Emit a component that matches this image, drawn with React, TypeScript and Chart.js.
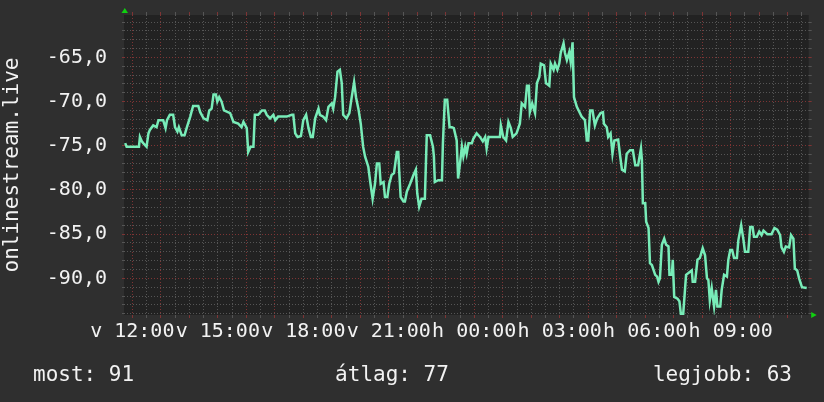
import { useEffect, useRef } from 'react';
import { Chart, registerables } from 'chart.js';
Chart.register(...registerables);

// minutes after 12:00 on the first day
const minutes = [
  -15, -12, 14, 16, 20, 23, 30, 34, 37, 44, 51, 55, 65, 70, 73, 79, 86, 90, 95, 98,
  104, 110, 115, 122, 128, 139, 143, 150, 158, 162, 167, 171, 176, 179, 183, 188, 193, 206, 213, 223,
  230, 234, 241, 244, 249, 255, 258, 265, 273, 279, 283, 290, 297, 301, 307, 325, 336, 339, 343, 348,
  355, 360, 366, 371, 376, 380, 385, 392, 395, 402, 408, 413, 420, 423, 427, 432, 437, 441, 444, 451,
  457, 462, 467, 471, 476, 481, 486, 490, 497, 501, 506, 511, 515, 520, 523, 529, 532, 537, 541, 546,
  551, 557, 560, 562, 565, 571, 574, 578, 585, 592, 597, 600, 604, 609, 616, 620, 627, 633, 635, 637,
  644, 652, 654, 658, 663, 668, 673, 677, 683, 686, 690, 694, 697, 701, 704, 708, 715, 718, 725, 732,
  738, 743, 746, 750, 774, 776, 781, 787, 792, 797, 801, 809, 816, 820, 827, 831, 835, 837, 842, 848,
  852, 857, 860, 867, 871, 878, 881, 887, 890, 895, 899, 902, 908, 911, 915, 920, 923, 927, 930, 936,
  946, 953, 957, 960, 964, 969, 974, 979, 986, 991, 993, 999, 1002, 1007, 1011, 1015, 1023, 1027, 1031, 1037,
  1041, 1048, 1054, 1056, 1059, 1065, 1071, 1073, 1075, 1080, 1082, 1087, 1090, 1094, 1101, 1105, 1108, 1111, 1115, 1120,
  1124, 1129, 1131, 1136, 1138, 1141, 1148, 1152, 1155, 1160, 1166, 1171, 1178, 1180, 1185, 1190, 1195, 1201, 1206, 1210,
  1213, 1216, 1220, 1225, 1229, 1232, 1238, 1241, 1246, 1252, 1255, 1259, 1263, 1267, 1273, 1276, 1282, 1287, 1290, 1297,
  1301, 1306, 1309, 1315, 1320, 1325, 1329, 1337, 1346, 1352, 1358, 1364, 1367, 1372, 1376, 1383, 1387, 1392, 1395, 1400,
  1404, 1410, 1420,
];

const values = [
  -74.7, -75.1, -75.1, -74.0, -74.5, -74.7, -75.1, -73.6, -73.2, -72.7, -72.9, -72.1, -72.1, -73.0, -72.1, -71.5, -71.5, -72.9, -73.4, -72.9,
  -73.8, -73.8, -72.9, -71.7, -70.5, -70.5, -71.2, -71.9, -72.1, -71.0, -70.8, -69.2, -69.2, -70.0, -69.5, -70.0, -71.0, -71.3, -72.3, -72.5,
  -72.9, -72.3, -73.0, -75.7, -75.1, -75.1, -71.5, -71.5, -71.0, -71.0, -71.5, -71.9, -71.5, -72.1, -71.7, -71.7, -71.5, -71.5, -73.6, -74.0,
  -73.9, -72.1, -71.5, -73.0, -74.0, -74.0, -71.9, -70.8, -71.5, -71.7, -72.1, -70.6, -70.2, -70.8, -69.5, -66.6, -66.4, -67.9, -71.5, -71.9,
  -71.3, -69.5, -67.8, -69.5, -70.8, -72.5, -75.1, -76.2, -77.4, -79.1, -81.0, -79.3, -77.0, -77.0, -79.3, -79.1, -80.8, -80.8, -79.3, -78.3,
  -78.1, -75.7, -75.7, -77.9, -80.8, -81.3, -81.3, -80.2, -79.3, -78.3, -77.7, -80.4, -81.9, -81.0, -81.0, -73.8, -73.8, -75.1, -76.2, -79.1,
  -78.9, -78.9, -74.7, -69.8, -69.8, -72.9, -72.9, -73.0, -74.4, -78.7, -77.0, -75.1, -76.2, -75.1, -75.9, -74.7, -74.7, -74.2, -73.6, -74.0,
  -74.5, -74.0, -75.3, -74.0, -74.0, -72.7, -74.0, -74.4, -72.3, -73.0, -74.0, -73.6, -72.5, -70.2, -70.6, -68.2, -68.2, -71.2, -70.2, -71.3,
  -67.9, -67.2, -65.7, -65.9, -67.9, -68.2, -65.7, -66.4, -65.7, -66.4, -65.7, -64.5, -63.4, -64.5, -65.3, -64.4, -65.5, -63.3, -69.5, -70.6,
  -71.7, -72.1, -74.4, -74.4, -71.0, -71.0, -72.7, -71.9, -71.3, -71.2, -72.5, -72.9, -74.0, -73.6, -75.9, -74.4, -74.3, -76.1, -77.7, -77.9,
  -75.9, -75.5, -75.5, -76.2, -77.2, -77.2, -75.3, -76.6, -81.5, -81.5, -83.6, -84.3, -88.3, -88.5, -89.6, -89.8, -90.4, -90.0, -86.2, -85.5,
  -86.2, -86.4, -89.6, -89.6, -87.9, -92.1, -92.3, -92.6, -94.0, -94.0, -89.6, -89.4, -89.1, -90.4, -90.4, -87.9, -87.7, -86.6, -87.4, -90.0,
  -90.2, -92.5, -91.1, -93.2, -91.3, -93.2, -93.2, -91.3, -89.6, -89.8, -87.9, -86.8, -86.8, -87.7, -87.7, -85.7, -84.0, -85.7, -87.0, -87.0,
  -84.2, -84.2, -85.3, -85.3, -84.7, -85.1, -84.6, -85.0, -85.0, -84.3, -84.5, -85.1, -86.5, -87.0, -86.4, -86.5, -85.1, -85.5, -88.9, -89.1,
  -90.0, -91.0, -91.1,
];

const xLabelTimes = [0, 180, 360, 540, 720, 900, 1080, 1260];
const xLabels = ['v 12:00', 'v 15:00', 'v 18:00', 'v 21:00', 'h 00:00', 'h 03:00', 'h 06:00', 'h 09:00'];
const yMajorTicks = [-90, -85, -80, -75, -70, -65];
const yTitle = 'onlinestream.live';
const summaryNames = ['most', 'átlag', 'legjobb'];
const summaryValues = [91, 77, 63];

const X_MIN = -17.5;
const X_MAX = 1424.2;
const Y_MIN = -94.15;
const Y_MAX = -60.2;

const FONT = "'DejaVu Sans Mono', monospace";
const MINOR = '#555555';
const MAJOR = '#7e3434';
const TEXT = '#f2f2f2';

function xTicks(scale: any) {
  const t: any[] = [];
  for (let m = 0; m <= X_MAX; m += 30) t.push({ value: m });
  scale.ticks = t;
}
function yTicks(scale: any) {
  const t: any[] = [];
  for (let v = -94; v <= -61; v += 1) t.push({ value: v });
  scale.ticks = t;
}
const xGridColor = (ctx: any) => {
  const m = ctx.tick ? ctx.tick.value : 0;
  const r = ((m % 240) + 240) % 240;
  return r === 0 || r === 60 ? MAJOR : MINOR;
};
const xTickColor = (ctx: any) => {
  const m = ctx.tick ? ctx.tick.value : 0;
  return m % 60 === 0 ? MAJOR : MINOR;
};
const yGridColor = (ctx: any) => {
  const v = ctx.tick ? ctx.tick.value : 0;
  return v % 5 === 0 ? MAJOR : MINOR;
};
const fixSize = (w: number | null, h: number | null) => (s: any) => {
  if (w !== null) s.width = w;
  if (h !== null) s.height = h;
  s.paddingTop = 0;
  s.paddingBottom = 0;
  s.paddingLeft = 0;
  s.paddingRight = 0;
};

const decorPlugin = {
  id: 'decor',
  beforeDraw(chart: any) {
    const { ctx, chartArea } = chart;
    ctx.save();
    ctx.fillStyle = '#2f2f2f';
    ctx.fillRect(0, 0, chart.width, chart.height);
    ctx.fillStyle = '#222222';
    ctx.fillRect(chartArea.left, chartArea.top, chartArea.right - chartArea.left, chartArea.bottom - chartArea.top);
    ctx.restore();
  },
  afterDraw(chart: any) {
    const { ctx, chartArea } = chart;
    ctx.save();
    // arrows
    ctx.fillStyle = '#10d010';
    ctx.beginPath();
    ctx.moveTo(chartArea.left - 2.5, chartArea.top - 2);
    ctx.lineTo(chartArea.left + 4, chartArea.top - 2);
    ctx.lineTo(chartArea.left + 0.8, chartArea.top - 7);
    ctx.closePath();
    ctx.fill();
    ctx.beginPath();
    ctx.moveTo(chartArea.right + 2.5, chartArea.bottom - 3);
    ctx.lineTo(chartArea.right + 2.5, chartArea.bottom + 3);
    ctx.lineTo(chartArea.right + 8, chartArea.bottom);
    ctx.closePath();
    ctx.fill();
    // summary
    ctx.fillStyle = TEXT;
    ctx.font = `21px ${FONT}`;
    ctx.textBaseline = 'alphabetic';
    const y = 381;
    ctx.textAlign = 'left';
    ctx.fillText(`${summaryNames[0]}: ${summaryValues[0]}`, 33, y);
    ctx.textAlign = 'center';
    ctx.fillText(`${summaryNames[1]}: ${summaryValues[1]}`, 392, y);
    ctx.textAlign = 'right';
    ctx.fillText(`${summaryNames[2]}: ${summaryValues[2]}`, 792, y);
    ctx.restore();
  },
};

export default function App() {
  const ref = useRef<HTMLCanvasElement>(null);
  useEffect(() => {
    document.body.style.margin = '0';
    document.body.style.background = '#2f2f2f';
    const points = minutes.map((m, i) => ({ x: m, y: values[i] }));
    const chart = new Chart(ref.current as HTMLCanvasElement, {
      type: 'line',
      data: {
        datasets: [
          {
            data: points,
            borderColor: '#78ecb8',
            borderWidth: 2.5,
            pointRadius: 0,
            tension: 0,
            fill: false,
            borderJoinStyle: 'miter',
          } as any,
        ],
      },
      plugins: [decorPlugin],
      options: {
        animation: false,
        responsive: false,
        devicePixelRatio: 1,
        layout: { padding: { left: 0, right: 12.3, top: 12, bottom: 0 } },
        plugins: { legend: { display: false }, tooltip: { enabled: false }, title: { display: false } },
        scales: {
          x: {
            type: 'linear',
            position: 'bottom',
            min: X_MIN,
            max: X_MAX,
            afterBuildTicks: xTicks,
            afterFit: fixSize(null, 87),
            grid: { color: xGridColor, tickColor: xTickColor, drawTicks: true, tickLength: 3, lineWidth: 1 },
            border: { display: false, dash: [1, 2] },
            ticks: {
              autoSkip: false,
              maxRotation: 0,
              minRotation: 0,
              padding: 1.5,
              color: TEXT,
              font: { family: FONT, size: 20 },
              callback: (v: any) => {
                const i = xLabelTimes.indexOf(Number(v));
                return i >= 0 ? xLabels[i] : '';
              },
            },
          },
          xTop: {
            type: 'linear',
            position: 'top',
            min: X_MIN,
            max: X_MAX,
            afterBuildTicks: xTicks,
            afterFit: fixSize(null, 3),
            grid: { drawOnChartArea: false, tickColor: xTickColor, color: xTickColor, drawTicks: true, tickLength: 3 },
            border: { display: false },
            ticks: { display: false },
          },
          y: {
            type: 'linear',
            position: 'left',
            min: Y_MIN,
            max: Y_MAX,
            afterBuildTicks: yTicks,
            afterFit: fixSize(124, null),
            grid: { color: yGridColor, tickColor: yGridColor, drawTicks: true, tickLength: 2, lineWidth: 1 },
            border: { display: false, dash: [1, 2] },
            title: {
              display: true,
              text: yTitle,
              color: TEXT,
              font: { family: FONT, size: 21 },
              padding: { top: 0, bottom: 0 },
            },
            ticks: {
              autoSkip: false,
              padding: 15,
              color: TEXT,
              font: { family: FONT, size: 20 },
              callback: (v: any) => (yMajorTicks.includes(Number(v)) ? Number(v).toFixed(1).replace('.', ',') : ''),
            },
          },
          yRight: {
            type: 'linear',
            position: 'right',
            min: Y_MIN,
            max: Y_MAX,
            afterBuildTicks: yTicks,
            afterFit: fixSize(3, null),
            grid: { drawOnChartArea: false, color: yGridColor, tickColor: yGridColor, drawTicks: true, tickLength: 3 },
            border: { display: false },
            ticks: { display: false },
          },
        },
      } as any,
    });
    return () => chart.destroy();
  }, []);
  return <canvas ref={ref} width={824} height={402} style={{ display: 'block', width: 824, height: 402 }} />;
}
